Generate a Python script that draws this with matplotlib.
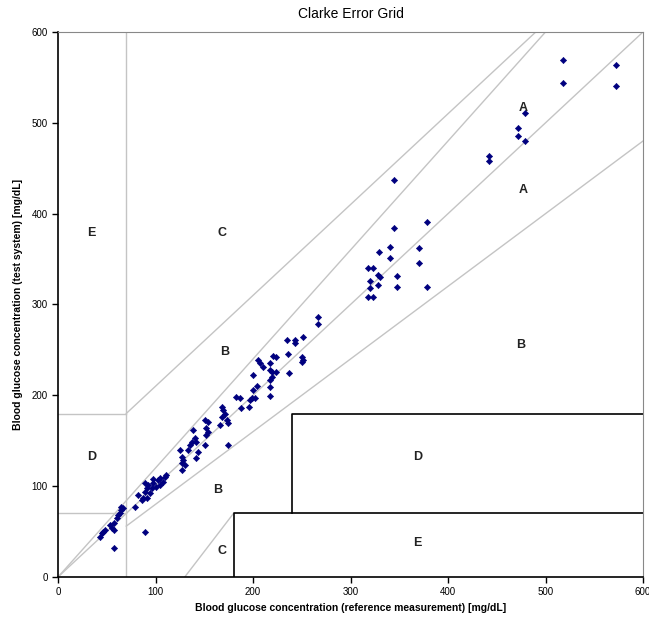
import numpy as np
import matplotlib.pyplot as plt

# data: reference measurement vs test system (mg/dL)
ref = [43, 45, 46, 48, 53, 55, 57, 57, 60, 62, 64, 65, 65, 67, 57, 79, 82, 87,
       89, 89, 91, 92, 94, 96, 97, 101, 103, 105, 108, 110, 111, 89, 86, 91,
       97, 105, 127, 127, 128, 127, 130, 125, 133, 135, 137, 140, 142, 138,
       144, 142, 151, 152, 152, 154, 151, 154, 166, 168, 169, 171, 173, 174,
       174, 183, 168, 187, 188, 197, 199, 202, 196, 200, 204, 200, 217, 217,
       217, 219, 217, 219, 224, 205, 207, 210, 217, 221, 224, 236, 237, 235,
       243, 243, 251, 250, 251, 250, 267, 267,
       345, 345, 378, 329, 341, 341, 370, 370, 318, 323, 320, 328, 330, 328,
       320, 348, 348, 378, 318, 323, 442, 442, 472, 472, 479, 479, 518, 518,
       572, 572]
test = [44, 48, 50, 52, 57, 54, 52, 59, 65, 68, 70, 74, 77, 76, 32, 77, 90, 87,
        94, 103, 98, 101, 92, 98, 103, 99, 107, 101, 105, 110, 112, 50, 85, 87,
        108, 109, 118, 125, 129, 132, 123, 140, 140, 145, 149, 153, 149, 162,
        138, 131, 145, 156, 164, 160, 173, 171, 167, 176, 184, 180, 173, 169,
        145, 198, 187, 197, 186, 195, 197, 197, 187, 206, 210, 222, 199, 209,
        217, 220, 228, 226, 226, 239, 236, 231, 236, 243, 242, 246, 225, 261,
        261, 258, 264, 242, 239, 237, 286, 278,
        437, 384, 391, 358, 363, 351, 362, 346, 340, 340, 326, 333, 330, 322,
        318, 331, 319, 319, 308, 308, 463, 458, 494, 486, 480, 511, 569, 544,
        564, 541]

# zone labels
zone_text = ["A", "A", "B", "B", "B", "C", "C", "D", "D", "E", "E"]
zone_x = [477, 477, 475, 171, 164, 168, 168, 35, 369, 34, 369]
zone_y = [516, 426, 255, 248, 96, 379, 29, 132, 132, 379, 37]

fig = plt.figure(figsize=(6.49, 6.23), dpi=100)
ax = fig.add_axes([58 / 649, 46 / 623, 585 / 649, 545 / 623])

grey = "#c4c4c4"
# grey zone boundaries
ax.plot([0, 600], [0, 600], color=grey, lw=1)
ax.plot([0, 500], [0, 600], color=grey, lw=1)
ax.plot([70, 600], [56, 480], color=grey, lw=1)
ax.plot([70, 490], [180, 600], color=grey, lw=1)
ax.plot([70, 70], [0, 600], color=grey, lw=1)
ax.plot([0, 70], [180, 180], color=grey, lw=1)
ax.plot([0, 70], [70, 70], color=grey, lw=1)
ax.plot([130, 180], [0, 70], color=grey, lw=1)

# black boxes for D and E
ax.plot([180, 180, 600], [0, 70, 70], color="black", lw=1.2)
ax.plot([240, 240, 600], [70, 180, 180], color="black", lw=1.2)

ax.plot(ref, test, linestyle="none", marker="D", markersize=3.2,
        color="#00007f", markeredgewidth=0.4)

for t, x, y in zip(zone_text, zone_x, zone_y):
    ax.text(x, y, t, ha="center", va="center", fontsize=9,
            fontweight="bold", color="#222222", family="Liberation Sans")

ax.set_xlim(0, 600)
ax.set_ylim(0, 600)
ax.set_xticks(np.arange(0, 601, 100))
ax.set_yticks(np.arange(0, 601, 100))
ax.tick_params(direction="out", length=4, labelsize=7, width=1)
for lab in ax.get_xticklabels() + ax.get_yticklabels():
    lab.set_family("Liberation Sans")

ax.spines["left"].set_linewidth(1.2)
ax.spines["bottom"].set_linewidth(1.2)
ax.spines["top"].set_color("#888888")
ax.spines["right"].set_color("#888888")

ax.set_title("Clarke Error Grid", fontsize=10, family="Liberation Sans", pad=10)
ax.set_xlabel("Blood glucose concentration (reference measurement) [mg/dL]",
              fontsize=7.5, fontweight="bold", family="Liberation Sans", labelpad=4)
ax.set_ylabel("Blood glucose concentration (test system) [mg/dL]",
              fontsize=7.5, fontweight="bold", family="Liberation Sans", labelpad=6)

plt.savefig("out.png", dpi=100)
